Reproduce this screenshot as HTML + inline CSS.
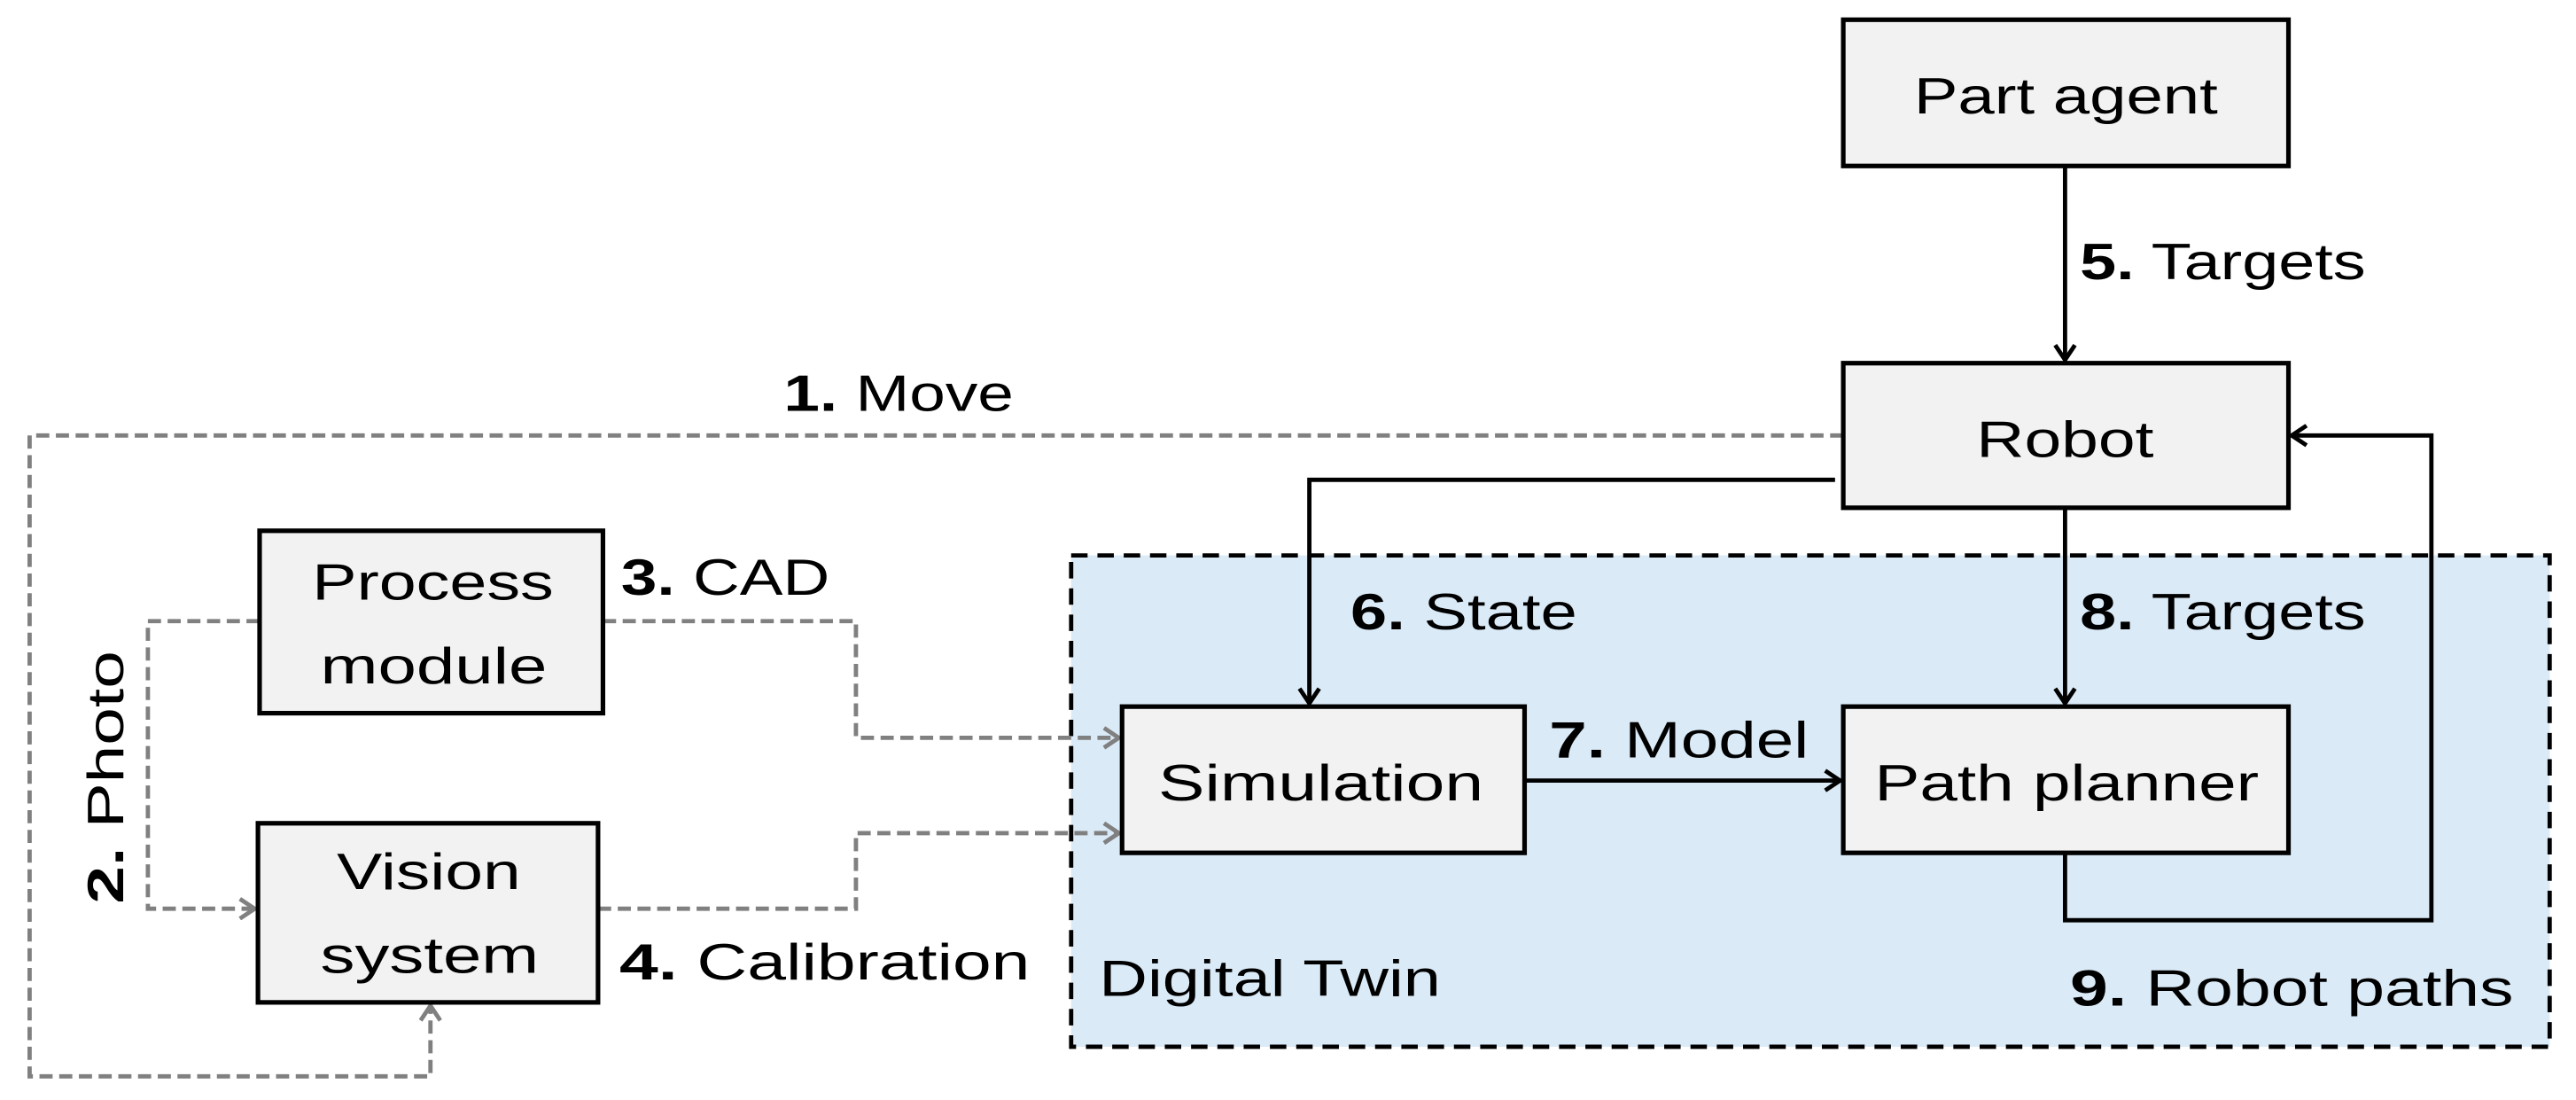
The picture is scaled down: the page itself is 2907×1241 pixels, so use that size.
<!DOCTYPE html>
<html><head><meta charset="utf-8"><style>
html,body{margin:0;padding:0;background:#fff;}
svg{display:block;}
text{font-family:"Liberation Sans",sans-serif;font-size:31px;fill:#000;}
.b{font-weight:bold;}
</style></head><body>
<svg width="2907" height="1241" viewBox="0 0 1568 669.4" xmlns="http://www.w3.org/2000/svg">
<defs>
<marker id="ak" markerWidth="12" markerHeight="14" refX="10" refY="7" orient="auto" markerUnits="userSpaceOnUse"><path d="M1,1 L10,7 L1,13" fill="none" stroke="#000" stroke-width="2.6"/></marker>
<marker id="ag" markerWidth="12" markerHeight="14" refX="10" refY="7" orient="auto" markerUnits="userSpaceOnUse"><path d="M1,1 L10,7 L1,13" fill="none" stroke="#808080" stroke-width="2.6"/></marker>
</defs>
<!-- Digital twin -->
<rect x="652" y="338" width="900" height="299" fill="#daeaf7" stroke="#000" stroke-width="2.6" stroke-dasharray="10 6"/>
<!-- dashed grey connectors -->
<g fill="none" stroke="#808080" stroke-width="2.6" stroke-dasharray="8 4">
<path d="M1122,265 H18 V655 H262 V612" marker-end="url(#ag)"/>
<path d="M158,378 H90 V553 H155" marker-end="url(#ag)"/>
<path d="M367,378 H521 V449 H681" marker-end="url(#ag)"/>
<path d="M364,553 H521 V507 H681" marker-end="url(#ag)"/>
</g>
<!-- black connectors -->
<g fill="none" stroke="#000" stroke-width="2.6">
<path d="M1257,101 V219" marker-end="url(#ak)"/>
<path d="M1117,292 H797 V428" marker-end="url(#ak)"/>
<path d="M1257,309 V428" marker-end="url(#ak)"/>
<path d="M928,475 H1120" marker-end="url(#ak)"/>
<path d="M1257,519 V560 H1480 V265 H1395" marker-end="url(#ak)"/>
</g>
<!-- boxes -->
<g fill="#f2f2f2" stroke="#000" stroke-width="2.8">
<rect x="1122" y="12" width="271" height="89"/>
<rect x="1122" y="221" width="271" height="88"/>
<rect x="683" y="430" width="245" height="89"/>
<rect x="1122" y="430" width="271" height="89"/>
<rect x="158" y="323" width="209" height="111"/>
<rect x="157" y="501" width="207" height="109"/>
</g>
<!-- box text -->
<text x="1165" y="69" textLength="185" lengthAdjust="spacingAndGlyphs">Part agent</text>
<text x="1203" y="278" textLength="108" lengthAdjust="spacingAndGlyphs">Robot</text>
<text x="705" y="487" textLength="198" lengthAdjust="spacingAndGlyphs">Simulation</text>
<text x="1141" y="487" textLength="234" lengthAdjust="spacingAndGlyphs">Path planner</text>
<text x="190" y="365" textLength="147" lengthAdjust="spacingAndGlyphs">Process</text>
<text x="195" y="416" textLength="138" lengthAdjust="spacingAndGlyphs">module</text>
<text x="205" y="541" textLength="112" lengthAdjust="spacingAndGlyphs">Vision</text>
<text x="195" y="592" textLength="133" lengthAdjust="spacingAndGlyphs">system</text>
<!-- labels -->
<text x="1266" y="170" textLength="174" lengthAdjust="spacingAndGlyphs"><tspan class="b">5.</tspan> Targets</text>
<text x="477" y="250" textLength="140" lengthAdjust="spacingAndGlyphs"><tspan class="b">1.</tspan> Move</text>
<text x="822" y="383" textLength="138" lengthAdjust="spacingAndGlyphs"><tspan class="b">6.</tspan> State</text>
<text x="1266" y="383" textLength="174" lengthAdjust="spacingAndGlyphs"><tspan class="b">8.</tspan> Targets</text>
<text x="943" y="461" textLength="158" lengthAdjust="spacingAndGlyphs"><tspan class="b">7.</tspan> Model</text>
<text x="1260" y="612" textLength="270" lengthAdjust="spacingAndGlyphs"><tspan class="b">9.</tspan> Robot paths</text>
<text x="669" y="606" textLength="208" lengthAdjust="spacingAndGlyphs">Digital Twin</text>
<text x="378" y="362" textLength="127" lengthAdjust="spacingAndGlyphs"><tspan class="b">3.</tspan> CAD</text>
<text x="377" y="596" textLength="250" lengthAdjust="spacingAndGlyphs"><tspan class="b">4.</tspan> Calibration</text>
<text transform="translate(75,550) rotate(-90)" textLength="154" lengthAdjust="spacingAndGlyphs"><tspan class="b">2.</tspan> Photo</text>
</svg>
</body></html>
